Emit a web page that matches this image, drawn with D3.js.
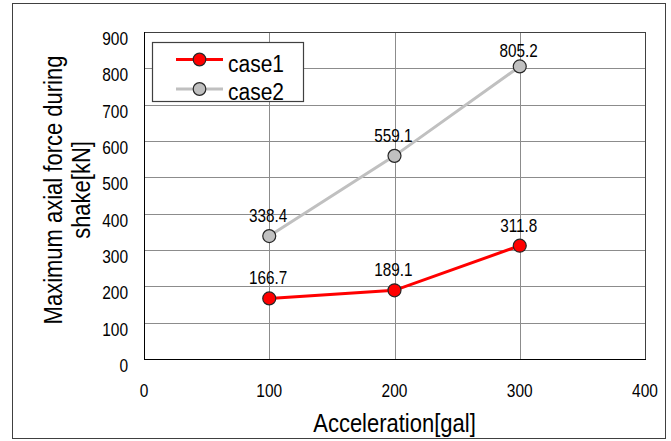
<!DOCTYPE html>
<html><head><meta charset="utf-8">
<script src="https://cdn.jsdelivr.net/npm/d3@7"></script>
<style>html,body{margin:0;padding:0;background:#fff}svg{display:block}text{font-family:"Liberation Sans",Arial,sans-serif;fill:#000}</style>
</head><body>
<script>
const accel = [100, 200, 300];
const case1 = [166.7, 189.1, 311.8];
const case2 = [338.4, 559.1, 805.2];
const seriesNames = ["case1", "case2"];
const xTicks = [0, 100, 200, 300, 400];
const yTicks = [0, 100, 200, 300, 400, 500, 600, 700, 800, 900];
const xTitle = "Acceleration[gal]";
const yTitleLines = ["Maximum axial force during", "shake[kN]"];

const W = 671, H = 441;
const svg = d3.select("body").append("svg").attr("width", W).attr("height", H);
const x = d3.scaleLinear().domain([0, 400]).range([144, 645]);
const y = d3.scaleLinear().domain([0, 900]).range([359, 32]);

function T(sel, px, py, s, size, anchor, rot) {
  return sel.append("text")
    .attr("transform", `translate(${px},${py}) rotate(${rot || 0}) scale(1,1.15)`)
    .attr("font-size", size).attr("text-anchor", anchor).text(s);
}

// outer border
svg.append("rect").attr("x", 12.5).attr("y", 3.5).attr("width", 653).attr("height", 435)
  .attr("fill", "#fff").attr("stroke", "#404040").attr("stroke-width", 1);

// plot area
svg.append("rect").attr("x", x(0)).attr("y", y(900)).attr("width", x(400) - x(0)).attr("height", y(0) - y(900))
  .attr("fill", "#fff");

// gridlines
const grid = svg.append("g").attr("stroke", "#8c8c8c").attr("stroke-width", 1).attr("shape-rendering", "crispEdges");
yTicks.slice(1).forEach(v => grid.append("line").attr("x1", x(0)).attr("x2", x(400)).attr("y1", Math.round(y(v)) + 0.5).attr("y2", Math.round(y(v)) + 0.5));
xTicks.slice(1, -1).forEach(v => grid.append("line").attr("y1", y(0)).attr("y2", y(900)).attr("x1", Math.round(x(v)) + 0.5).attr("x2", Math.round(x(v)) + 0.5));

// plot border
svg.append("rect").attr("x", x(0) + 0.5).attr("y", y(900) + 0.5).attr("width", x(400) - x(0)).attr("height", y(0) - y(900))
  .attr("fill", "none").attr("stroke", "#404040").attr("stroke-width", 1).attr("shape-rendering", "crispEdges");
// axes lines
const ax = svg.append("g").attr("stroke", "#000").attr("stroke-width", 1.3).attr("shape-rendering", "crispEdges");
ax.append("line").attr("x1", x(0) + 0.5).attr("x2", x(0) + 0.5).attr("y1", y(900)).attr("y2", y(0) + 0.5);
ax.append("line").attr("x1", x(0)).attr("x2", x(400) + 1).attr("y1", y(0) + 0.5).attr("y2", y(0) + 0.5);

// tick labels
yTicks.forEach(v => T(svg, 128, y(v) + 13, d3.format("d")(v), 15.5, "end"));
xTicks.forEach(v => T(svg, x(v), 397, d3.format("d")(v), 15.5, "middle"));

// axis titles
T(svg, x(200), 432, xTitle, 22, "middle");
T(svg, 62, 190, yTitleLines[0], 22, "middle", -90);
T(svg, 90, 190, yTitleLines[1], 22, "middle", -90);

// series
const series = [
  {name: seriesNames[0], vals: case1, line: "#ff0000", fill: "#ff0000"},
  {name: seriesNames[1], vals: case2, line: "#c0c0c0", fill: "#c0c0c0"}
];
const lineGen = d3.line().x((d, i) => x(accel[i])).y(d => y(d));
series.slice().reverse().forEach(s => {
  svg.append("path").attr("d", lineGen(s.vals)).attr("fill", "none").attr("stroke", s.line).attr("stroke-width", 3);
});
series.forEach(s => {
  s.vals.forEach((v, i) => {
    svg.append("circle").attr("cx", x(accel[i])).attr("cy", y(v)).attr("r", 6.5)
      .attr("fill", s.fill).attr("stroke", "#262626").attr("stroke-width", 1.2);
    const by = Math.max(y(v) - 14, y(900) + 25);
    T(svg, x(accel[i]) - 1, by, d3.format(".1f")(v), 15.3, "middle");
  });
});

// legend
const lg = svg.append("g");
lg.append("rect").attr("x", 152.5).attr("y", 42.5).attr("width", 151).attr("height", 59)
  .attr("fill", "#fff").attr("stroke", "#404040").attr("stroke-width", 1.2);
series.forEach((s, i) => {
  const cy = [59.5, 89][i];
  lg.append("line").attr("x1", 176).attr("x2", 223).attr("y1", cy).attr("y2", cy).attr("stroke", s.line).attr("stroke-width", 3);
  lg.append("circle").attr("cx", 199.5).attr("cy", cy).attr("r", 6.3).attr("fill", s.fill).attr("stroke", "#262626").attr("stroke-width", 1.2);
  T(lg, 228, [71.7, 100][i], s.name, 21, "start");
});
</script>
</body></html>
